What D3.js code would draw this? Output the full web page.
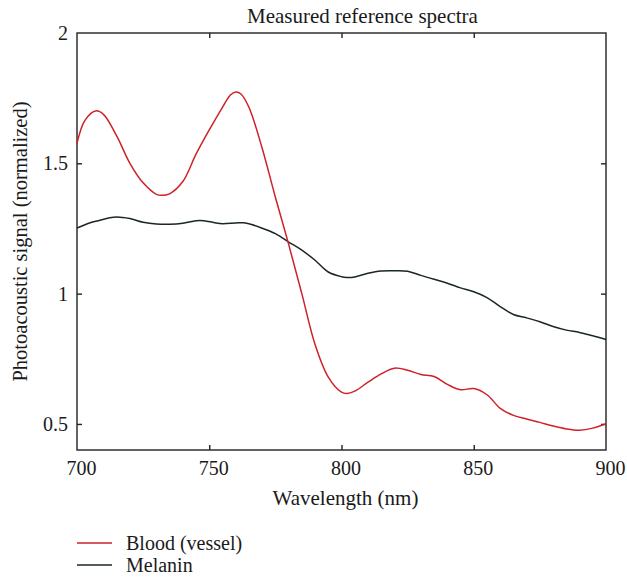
<!DOCTYPE html>
<html>
<head>
<meta charset="utf-8">
<script src="https://cdn.jsdelivr.net/npm/d3@7"></script>
<style>
  html, body { margin: 0; padding: 0; background: #fff; }
  svg text { font-family: "Liberation Serif", "DejaVu Serif", serif; fill: #1a1a1a; }
</style>
</head>
<body>
<svg id="chart" width="627" height="580"></svg>
<script>
const bloodWl = [700,703,707,710,715,720,725,730,732,735,740,745,750,755,758,760,762,765,770,775,780,785,790,795,800,802,805,810,815,820,825,830,835,840,845,850,855,860,865,870,875,880,885,890,895,900];
const bloodSignal = [1.577,1.665,1.701,1.688,1.605,1.50,1.425,1.381,1.377,1.383,1.43,1.535,1.628,1.715,1.762,1.774,1.766,1.715,1.558,1.37,1.19,1.00,0.805,0.68,0.622,0.617,0.626,0.66,0.692,0.714,0.706,0.690,0.682,0.652,0.631,0.636,0.612,0.56,0.533,0.519,0.506,0.492,0.481,0.476,0.484,0.501];

const melaninWl = [700,705,708,712,715,720,725,730,735,740,745,748,752,755,760,763,766,770,775,780,785,790,795,800,802,805,810,815,820,825,830,835,840,845,850,855,860,865,870,875,880,885,890,895,900];
const melaninSignal = [1.252,1.272,1.280,1.290,1.294,1.288,1.274,1.267,1.266,1.270,1.280,1.280,1.272,1.268,1.271,1.272,1.265,1.251,1.230,1.198,1.167,1.128,1.083,1.065,1.062,1.064,1.078,1.087,1.088,1.086,1.070,1.055,1.040,1.022,1.007,0.985,0.950,0.920,0.907,0.892,0.874,0.860,0.851,0.838,0.824];

const xTicks = [700,750,800,850,900];
const yTicks = [0.5,1,1.5,2];
const seriesNames = ["Blood (vessel)", "Melanin"];
const seriesColors = ["#cf2129", "#1b2727"];

(function () {
const svg = d3.select("#chart");
const L = 77, R = 606, T = 33, B = 450;
const x = d3.scaleLinear().domain([700, 900]).range([L, R]);
const y = d3.scaleLinear().domain([0.4, 2]).range([B, T]);

svg.append("rect").attr("x", L).attr("y", T).attr("width", R - L).attr("height", B - T)
  .attr("fill", "none").attr("stroke", "#222").attr("stroke-width", 1.4);

const fs = 20;
const gBottom = svg.append("g").attr("transform", `translate(0,${B})`)
  .call(d3.axisBottom(x).tickValues(xTicks).tickSize(-5).tickPadding(11).tickFormat(d3.format("d")));
const gTop = svg.append("g").attr("transform", `translate(0,${T})`)
  .call(d3.axisTop(x).tickValues(xTicks).tickSize(-5).tickFormat(""));
const gLeft = svg.append("g").attr("transform", `translate(${L},0)`)
  .call(d3.axisLeft(y).tickValues(yTicks).tickSize(-5).tickPadding(9).tickFormat(d => String(d)));
const gRight = svg.append("g").attr("transform", `translate(${R},0)`)
  .call(d3.axisRight(y).tickValues(yTicks).tickSize(-5).tickFormat(""));

[gBottom, gTop, gLeft, gRight].forEach(g => {
  g.select(".domain").remove();
  g.selectAll(".tick line").attr("stroke", "#222").attr("stroke-width", 1.4);
  g.selectAll(".tick text").attr("font-size", fs).attr("fill", "#1a1a1a");
});
gBottom.selectAll(".tick text").attr("dx", 4);
gBottom.selectAll(".tick line").filter(d => d === 700 || d === 900).remove();
gTop.selectAll(".tick line").filter(d => d === 700 || d === 900).remove();
gLeft.selectAll(".tick line").filter(d => d === 2).remove();
gRight.selectAll(".tick line").filter(d => d === 2).remove();

const line = d3.line().curve(d3.curveCatmullRom.alpha(0.5)).x(d => x(d[0])).y(d => y(d[1]));
const bloodData = bloodWl.map((w, i) => [w, bloodSignal[i]]);
const melaninData = melaninWl.map((w, i) => [w, melaninSignal[i]]);

svg.append("path").datum(melaninData).attr("d", line)
  .attr("fill", "none").attr("stroke", seriesColors[1]).attr("stroke-width", 1.5);
svg.append("path").datum(bloodData).attr("d", line)
  .attr("fill", "none").attr("stroke", seriesColors[0]).attr("stroke-width", 1.5);

svg.append("text").attr("x", 247).attr("y", 23).attr("text-anchor", "start")
  .attr("font-size", 21).text("Measured reference spectra");
svg.append("text").attr("x", 345.5).attr("y", 505).attr("text-anchor", "middle")
  .attr("font-size", 21).text("Wavelength (nm)");
svg.append("text").attr("transform", `translate(27,${(T + B) / 2}) rotate(-90)`).attr("text-anchor", "middle")
  .attr("font-size", 20.5).text("Photoacoustic signal (normalized)");

const legendY = [543, 565];
seriesNames.forEach((name, i) => {
  svg.append("line").attr("x1", 77).attr("x2", 112).attr("y1", legendY[i]).attr("y2", legendY[i])
    .attr("stroke", seriesColors[i]).attr("stroke-width", 1.5);
  svg.append("text").attr("x", 126).attr("y", legendY[i] + 6.5).attr("font-size", 20).text(name);
});
})();
</script>
</body>
</html>
